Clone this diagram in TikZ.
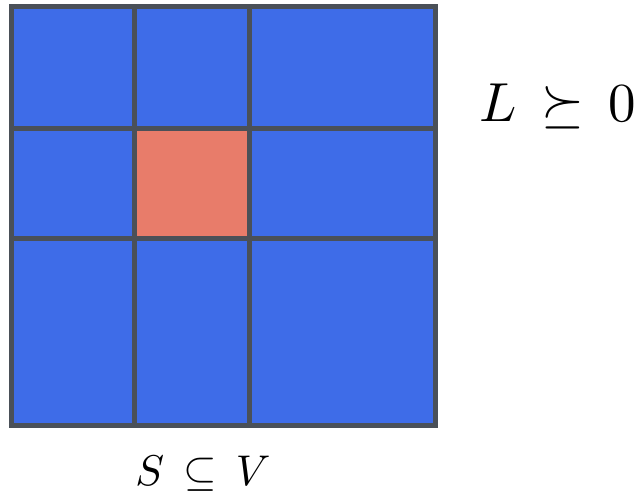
\documentclass[tikz,border=0pt]{standalone}
\definecolor{cellblue}{RGB}{62,108,232}
\definecolor{cellred}{RGB}{232,124,106}
\definecolor{gridgray}{RGB}{74,80,88}
\begin{document}
\begin{tikzpicture}[x=1pt,y=-1pt,
  gridline/.style={draw=gridgray,line width=5pt},
  lbl/.style={inner sep=0pt,anchor=base}]
\useasboundingbox (0,0) rectangle (637,498);
\fill[white] (0,0) rectangle (637,498);
\fill[cellblue] (11,6) rectangle (435,425);
\fill[cellred] (134.5,128.5) rectangle (249.5,238.5);
\draw[gridline] (11,6) rectangle (435,425);
\coordinate (v1t) at (134.5,6); \coordinate (v1b) at (134.5,425);
\coordinate (v2t) at (249.5,6); \coordinate (v2b) at (249.5,425);
\coordinate (h1l) at (11,128.5); \coordinate (h1r) at (435,128.5);
\coordinate (h2l) at (11,238.5); \coordinate (h2r) at (435,238.5);
\draw[gridline] (v1t) -- (v1b);
\draw[gridline] (v2t) -- (v2b);
\draw[gridline] (h1l) -- (h1r);
\draw[gridline] (h2l) -- (h2r);
\node[lbl] (psd) at (558,121) {\scalebox{5.5}{$L\,\succeq\,0$}};
\node[lbl] (sub) at (203,485) {\scalebox{4.3}{$S\,\subseteq\,V$}};
\end{tikzpicture}
\end{document}
